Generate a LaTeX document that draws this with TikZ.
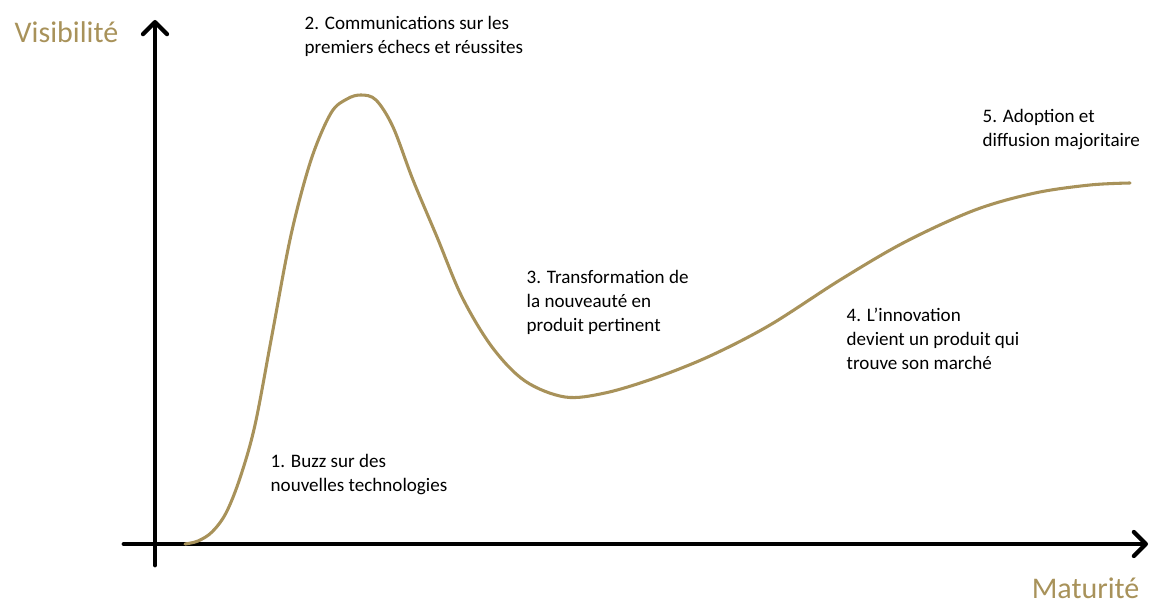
\documentclass[tikz,border=0pt]{standalone}
\usepackage{fontspec}
\setmainfont{Carlito}
\usetikzlibrary{arrows.meta}

\definecolor{gold}{HTML}{A8925A}

\tikzset{
  axe/.style={line width=3.6pt, line cap=round,
    -{Straight Barb[length=9pt, width=18pt, line width=3.2pt, round]}},
  courbe/.style={gold, line width=2.3pt, line cap=round},
  etape/.style={anchor=north west, align=left, font=\fontsize{14.3}{18}\selectfont},
  titre/.style={gold, font=\fontsize{22.5}{24}\selectfont}
}

\begin{document}
\begin{tikzpicture}[x=0.75pt, y=-0.75pt]
  \useasboundingbox (0,0) rectangle (1163,605);

  % axes
  \coordinate (o1) at (155,565);
  \coordinate (vmax) at (155,20);
  \coordinate (o2) at (124,544);
  \coordinate (mmax) at (1148,544);
  \draw[axe] (o1) -- (vmax);
  \draw[axe] (o2) -- (mmax);

  \node[titre, anchor=west] (vis) at (10,32) {Visibilité};
  \node[titre, anchor=east] (mat) at (1144,588) {Maturité};

  % courbe
  \draw[courbe] plot[smooth, tension=0.55] coordinates {
    (185,544) (198,541) (212,532) (226,513) (240,478) (255,425)
    (272,335) (291,235) (311,160) (331,113) (347,99) (361,95)
    (376,100) (393,127) (413,180) (437,237) (462,297) (492,347)
    (525,381) (565,397) (605,393) (655,378) (710,356) (770,325)
    (840,280) (905,242) (975,210) (1035,193) (1090,185) (1130,183)};

  % phases
  \node[etape] (p1) at (266,450) {1. Buzz sur des\\nouvelles technologies};
  \node[etape] (p2) at (300,12) {2. Communications sur les\\premiers échecs et réussites};
  \node[etape] (p3) at (522,266) {3. Transformation de\\la nouveauté en\\produit pertinent};
  \node[etape] (p4) at (842,303) {4. L’innovation\\devient un produit qui\\trouve son marché};
  \node[etape] (p5) at (978,105) {5. Adoption et\\diffusion majoritaire};
\end{tikzpicture}
\end{document}
